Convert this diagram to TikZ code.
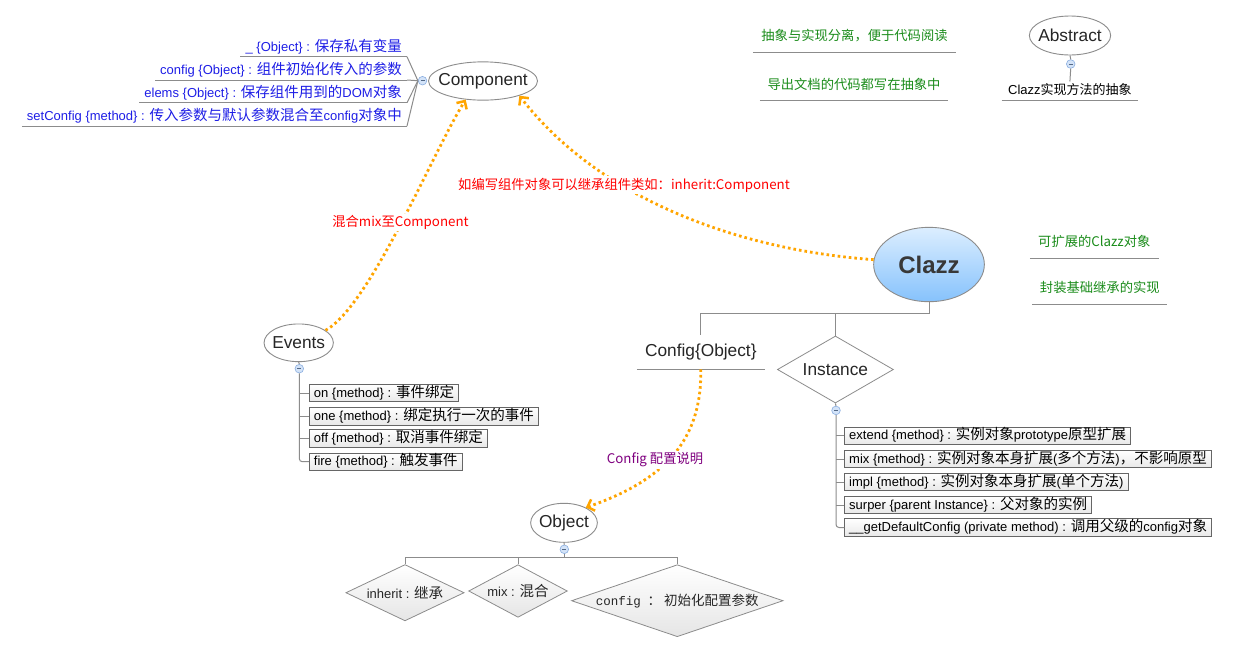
\documentclass[tikz,border=0pt]{standalone}
\usepackage{fontspec}
\setmainfont{Liberation Sans}
\newfontfamily\cjk{Noto Sans CJK SC}
\newfontfamily\monof{Liberation Mono}
\usetikzlibrary{shapes.geometric,arrows.meta}
\definecolor{lineg}{HTML}{8C8C8C}
\definecolor{ogr}{HTML}{FFA500}
\definecolor{itblue}{HTML}{1E1EE6}
\definecolor{gtxt}{HTML}{1A8C1A}
\definecolor{rtxt}{HTML}{FF0000}
\definecolor{ptxt}{HTML}{800080}
\definecolor{collf}{HTML}{D3E3F8}
\definecolor{colld}{HTML}{8AAEE0}
\definecolor{clzt}{HTML}{DCEEFF}
\definecolor{clzb}{HTML}{86C2FC}
\newcommand\zi[1]{{\fontsize{14.5}{16}\cjk #1}}
\newcommand\zh[1]{{\cjk #1}}
\newcommand\nw[1]{\makebox[0pt]{#1}}
\begin{document}
\begin{tikzpicture}[x=1pt,y=-1pt,
 tree/.style={draw=lineg,line width=1pt},
 bubble/.style={ellipse,draw=black!45,line width=0.9pt,fill=white,inner sep=0pt,text=black!85,font=\fontsize{17.3}{19}\selectfont},
 coll/.style={circle,draw=colld,fill=collf,line width=0.6pt,minimum size=8.6pt,inner sep=0pt,
   path picture={\draw[colld!60!black,line width=0.6pt] ([xshift=-2pt]path picture bounding box.center) -- ([xshift=2pt]path picture bounding box.center);}},
 uline/.style={append after command={(\tikzlastnode.south west) edge[draw=lineg,line width=0.9pt] (\tikzlastnode.south east)}},
 itembox/.style={rectangle,draw=black!60,line width=0.8pt,top color=white,bottom color=black!9,
   font=\fontsize{13}{15}\selectfont,text height=11pt,text depth=3pt,inner xsep=4.5pt,inner ysep=1.7pt,anchor=west},
 blueitem/.style={uline,text=itblue,font=\fontsize{13}{15}\selectfont,text height=11pt,text depth=3pt,
   inner xsep=5pt,inner ysep=2.2pt,anchor=south east},
 gitem/.style={uline,text=gtxt,font=\fontsize{13.3}{15}\cjk,text height=10pt,text depth=3pt,inner xsep=0pt,inner ysep=8.3pt,anchor=south},
 dia/.style={diamond,draw=black!45,line width=0.8pt,inner sep=0pt,top color=white,bottom color=black!10,
   text=black!85,font=\fontsize{13}{15}\selectfont},
 orarr/.style={draw=ogr,line width=2.8pt,dash pattern=on 2.6pt off 3pt,
   -{Straight Barb[length=6pt,width=12pt,line width=2.5pt]}},
 lbl/.style={fill=white,inner sep=1.5pt,font=\fontsize{13.3}{15}\cjk}
]
\useasboundingbox (0,0) rectangle (1238,654);
\fill[white] (0,0) rectangle (1238,654);

% Component
\node[bubble,minimum width=109pt,minimum height=38.3pt] (Component) at (483,81) {\nw{Component}};
\node[coll] (ccirc) at (422.5,80.7) {};
\node[blueitem] (c1) at (407,56.7) {\_ \{Object\} : \zi{保存私有变量}};
\node[blueitem] (c2) at (407,80) {config \{Object\} : \zi{组件初始化传入的参数}};
\node[blueitem] (c3) at (407,102.7) {elems \{Object\} : \zi{保存组件用到的}DOM\zi{对象}};
\node[blueitem] (c4) at (407,126) {setConfig \{method\} : \zi{传入参数与默认参数混合至}config\zi{对象中}};
\foreach \n in {c1,c2,c3,c4} \draw[tree] (\n.south east) -- (ccirc.west);

% Abstract
\node[bubble,minimum width=81.3pt,minimum height=39pt] (Abstract) at (1070,35.5) {\nw{Abstract}};
\node[coll] (acirc) at (1070.7,64) {};
\node[uline,anchor=south,minimum width=136.3pt,font=\fontsize{13}{15}\selectfont,text height=10pt,text depth=3pt,inner xsep=0pt,inner ysep=2.9pt] (absub) at (1069.9,100.7) {Clazz\zh{实现方法的抽象}};
\draw[tree] (Abstract.south) -- (acirc.north);
\draw[tree] (acirc.south) -- (absub.north);

% green notes
\node[gitem,minimum width=203pt] (g1) at (854.5,52.3) {抽象与实现分离，便于代码阅读};
\node[gitem,minimum width=188pt] (g2) at (854,100.7) {导出文档的代码都写在抽象中};
\node[gitem,minimum width=128.6pt] (g3) at (1094.3,258.3) {可扩展的Clazz对象};
\node[gitem,minimum width=134.5pt] (g4) at (1099.8,304.3) {封装基础继承的实现};

% Clazz
\node[ellipse,draw=black!45,line width=0.9pt,top color=clzt,bottom color=clzb,inner sep=0pt,
  minimum width=110.7pt,minimum height=74.4pt,text=black!78,font=\fontsize{24}{26}\selectfont\bfseries] (Clazz) at (929,264.5) {\nw{Clazz}};
\coordinate (clbar) at (929,313.3);
\node[uline,anchor=south,minimum width=127.6pt,font=\fontsize{17.3}{19}\selectfont,text=black!85,text height=13pt,text depth=3.8pt,inner xsep=0pt,inner ysep=8.4pt] (Config) at (700.8,369.3) {Config\{Object\}};
\node[diamond,draw=black!45,line width=0.8pt,fill=white,inner sep=0pt,aspect=1.73,minimum width=116pt,minimum height=67pt,
  text=black!85,font=\fontsize{17.3}{19}\selectfont] (Instance) at (835.4,369.5) {Instance};
\draw[tree] (Clazz.south) -- (clbar) -| (Config.north);
\draw[tree] (Instance.north) -- (Instance.north |- clbar);

% Instance items
\node[coll] (icirc) at (836,410.4) {};
\draw[tree] (Instance.south) -- (icirc.north);
\node[itembox] (i1) at (844.3,435.8) {extend \{method\} : \zi{实例对象}prototype\zi{原型扩展}};
\node[itembox] (i2) at (844.3,459) {mix \{method\} : \zi{实例对象本身扩展}(\zi{多个方法})\zi{，不影响原型}};
\node[itembox] (i3) at (844.3,482) {impl \{method\} : \zi{实例对象本身扩展}(\zi{单个方法})};
\node[itembox] (i4) at (844.3,505) {surper \{parent Instance\} : \zi{父对象的实例}};
\node[itembox] (i5) at (844.3,527.5) {\_\_getDefaultConfig (private method) : \zi{调用父级的}config\zi{对象}};
\draw[tree,rounded corners=3pt] (icirc.south) |- (i5.west);
\foreach \n in {i1,i2,i3,i4} \draw[tree] (\n.west) -- (\n.west -| icirc.south);

% Events
\node[bubble,minimum width=69.3pt,minimum height=37.7pt] (Events) at (298.7,342.8) {\nw{Events}};
\node[coll] (ecirc) at (299.3,368.7) {};
\draw[tree] (Events.south) -- (ecirc.north);
\node[itembox] (e1) at (309,393) {on \{method\} : \zi{事件绑定}};
\node[itembox] (e2) at (309,416.3) {one \{method\} : \zi{绑定执行一次的事件}};
\node[itembox] (e3) at (309,438.5) {off \{method\} : \zi{取消事件绑定}};
\node[itembox] (e4) at (309,461.7) {fire \{method\} : \zi{触发事件}};
\draw[tree,rounded corners=3pt] (ecirc.south) |- (e4.west);
\foreach \n in {e1,e2,e3} \draw[tree] (\n.west) -- (\n.west -| ecirc.south);

% Object
\node[bubble,minimum width=66.7pt,minimum height=39pt] (Object) at (564,522.8) {\nw{Object}};
\node[coll] (ocirc) at (564.3,549.3) {};
\draw[tree] (Object.south) -- (ocirc.north);
\coordinate (objbar) at (564.3,557.7);
\node[dia,aspect=2.1,minimum width=118.3pt,minimum height=56.3pt] (d1) at (405,592.7) {inherit : \zi{继承}};
\node[dia,aspect=1.88,minimum width=98.7pt,minimum height=52.6pt] (d2) at (518,591) {mix : \zi{混合}};
\node[dia,aspect=2.94,minimum width=211.6pt,minimum height=72pt] (d3) at (677.3,600.7) {{\fontsize{12.5}{14}\monof config} {\fontsize{13.5}{15}\cjk\ ：\ 初始化配置参数}};
\draw[tree] (ocirc.south) -- (objbar);
\draw[tree] (d1.north) |- (objbar) -| (d3.north);
\draw[tree] (d2.north) -- (d2.north |- objbar);

% dotted relations
\draw[orarr] (Events.25) .. controls (370,306) and (433,152) .. (Component.-133);
\draw[orarr] (Clazz.175) .. controls (740,250) and (600,200) .. (Component.-22);
\draw[orarr] (Config.south) .. controls (702,440) and (665,480) .. (Object.35);

\node[lbl,text=rtxt] (l1) at (400.5,222.3) {混合mix至Component};
\node[lbl,text=rtxt] (l2) at (624,185) {如编写组件对象可以继承组件类如：inherit:Component};
\node[lbl,text=ptxt] (l3) at (655,460) {Config 配置说明};
\end{tikzpicture}
\end{document}
